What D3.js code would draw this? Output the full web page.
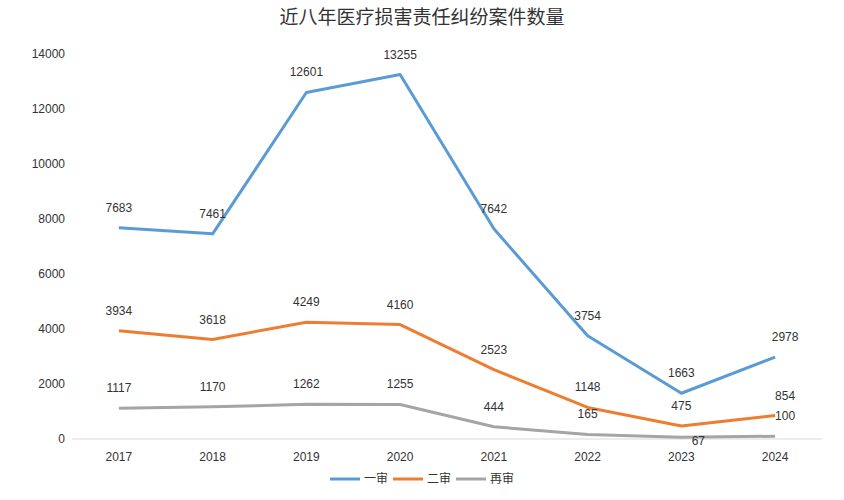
<!DOCTYPE html>
<html>
<head>
<meta charset="utf-8">
<script src="https://cdn.jsdelivr.net/npm/d3@7"></script>
<style>
  body { margin: 0; background: #fff; }
  text { font-family: "Liberation Sans", Arial, sans-serif; }
</style>
</head>
<body>
<svg id="chart" width="844" height="500"></svg>
<script>
const years = ["2017", "2018", "2019", "2020", "2021", "2022", "2023", "2024"];
const firstTrial = [7683, 7461, 12601, 13255, 7642, 3754, 1663, 2978];
const secondTrial = [3934, 3618, 4249, 4160, 2523, 1148, 475, 854];
const retrial = [1117, 1170, 1262, 1255, 444, 165, 67, 100];
const yTicks = [0, 2000, 4000, 6000, 8000, 10000, 12000, 14000];

const series = [
  { name: "一审", values: firstTrial, color: "#5B9BD5" },
  { name: "二审", values: secondTrial, color: "#ED7D31" },
  { name: "再审", values: retrial, color: "#A5A5A5" }
];

const svg = d3.select("#chart");
const margin = { top: 54, right: 22, bottom: 61, left: 72 };
const width = 844 - margin.left - margin.right;
const height = 500 - margin.top - margin.bottom;

const x = d3.scalePoint().domain(years).range([0, width]).padding(0.5);
const y = d3.scaleLinear().domain([0, 14000]).range([height, 0]);

svg.append("text")
  .attr("x", 422).attr("y", 24)
  .attr("text-anchor", "middle")
  .attr("font-size", 19)
  .attr("fill", "#333")
  .style("font-family", "'Noto Sans CJK SC', sans-serif")
  .text("近八年医疗损害责任纠纷案件数量");

const g = svg.append("g").attr("transform", `translate(${margin.left},${margin.top})`);

// y axis labels
g.selectAll(".ytick").data(yTicks).enter().append("text")
  .attr("x", -7).attr("y", d => y(d)).attr("dy", "0.35em")
  .attr("text-anchor", "end").attr("font-size", 12).attr("fill", "#333")
  .text(d => d);

// x axis line + labels
g.append("line").attr("x1", 0).attr("x2", width)
  .attr("y1", height).attr("y2", height).attr("stroke", "#d9d9d9");
g.selectAll(".xtick").data(years).enter().append("text")
  .attr("x", d => x(d)).attr("y", height + 22)
  .attr("text-anchor", "middle").attr("font-size", 12).attr("fill", "#333")
  .text(d => d);

const line = d3.line().x((d, i) => x(years[i])).y(d => y(d));

series.forEach(s => {
  g.append("path").datum(s.values)
    .attr("d", line).attr("fill", "none")
    .attr("stroke", s.color).attr("stroke-width", 3)
    .attr("stroke-linejoin", "round");
});

series.forEach((s, si) => {
  g.selectAll(".lbl" + si).data(s.values).enter().append("text")
    .attr("x", (d, i) => {
      if (si === 2 && i === 6) return x(years[i]) + 17;
      if (i === 7) return x(years[i]) + 10;
      return x(years[i]);
    })
    .attr("y", (d, i) => {
      if (si === 2 && i === 6) return y(d) + 8;
      return y(d) - 16;
    })
    .attr("text-anchor", "middle").attr("font-size", 12).attr("fill", "#333")
    .text(d => d);
});

// legend
const legend = svg.append("g").attr("transform", "translate(330,479)");
series.forEach((s, i) => {
  const lg = legend.append("g").attr("transform", `translate(${i * 63},0)`);
  lg.append("line").attr("x1", 0).attr("x2", 30).attr("stroke", s.color).attr("stroke-width", 3);
  lg.append("text").attr("x", 34).attr("dy", "0.35em").attr("font-size", 12).attr("fill", "#333")
    .style("font-family", "'Noto Sans CJK SC', sans-serif").text(s.name);
});
</script>
</body>
</html>
